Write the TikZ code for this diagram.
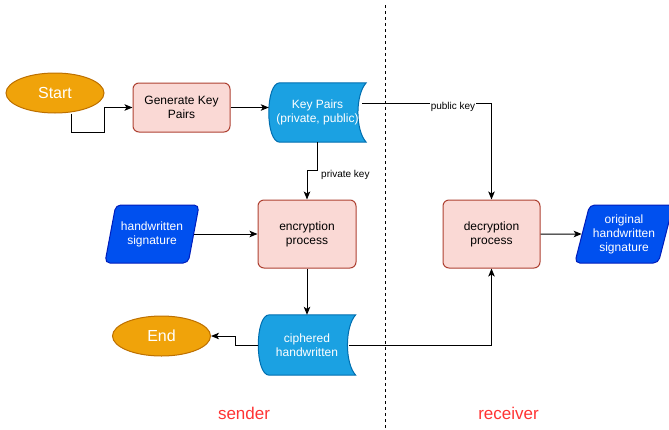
\documentclass[tikz,border=0pt]{standalone}
\usepackage{fontspec}
\setmainfont{Liberation Sans}
\usetikzlibrary{arrows.meta}
\usetikzlibrary{shapes.geometric, backgrounds, calc}
\definecolor{termfill}{HTML}{F0A30A}
\definecolor{termline}{HTML}{BD7000}
\definecolor{procfill}{HTML}{FAD9D5}
\definecolor{procline}{HTML}{AE4132}
\definecolor{storefill}{HTML}{1BA1E2}
\definecolor{storeline}{HTML}{006EAF}
\definecolor{iofill}{HTML}{0050EF}
\definecolor{ioline}{HTML}{001DBC}
\definecolor{sidered}{HTML}{FF3333}

% data storage outline round a plain node
\newcommand{\storeshape}[1]{%
  \draw[storeline, fill=storefill, line width=1pt]
    ($(#1.north west)+(11,0)$) -- (#1.north east)
    .. controls ($(#1.north east)+(-11,12)$) and ($(#1.south east)+(-11,-12)$) .. (#1.south east)
    -- ($(#1.south west)+(11,0)$)
    .. controls ($(#1.south west)+(-3.7,0)$) and ($(#1.north west)+(-3.7,0)$) .. cycle;
}

\begin{document}
\begin{tikzpicture}[x=1pt, y=-1pt,
    terminal/.style={ellipse, draw=termline, fill=termfill, line width=1pt, text=white,
        minimum width=98, minimum height=40, inner sep=0pt, font=\fontsize{16}{19}\selectfont},
    procbox/.style={rectangle, rounded corners=6pt, draw=procline, fill=procfill, line width=1pt,
        align=center, font=\fontsize{12}{14}\selectfont},
    datastore/.style={rectangle, minimum width=97, minimum height=59, text=white,
        align=center, font=\fontsize{12}{14}\selectfont},
    iobox/.style={trapezium, trapezium left angle=72, trapezium right angle=108, trapezium stretches=true,
        rounded corners=5pt, draw=ioline, fill=iofill, line width=1pt, text=white,
        minimum width=95, minimum height=58, align=center, font=\fontsize{12}{14}\selectfont},
    conn/.style={-{Stealth[length=8pt, width=6.5pt, inset=2pt]}, line width=1pt},
    edgelabel/.style={font=\fontsize{10}{12}\selectfont, inner sep=1pt},
    sidelabel/.style={text=sidered, font=\fontsize{17}{20}\selectfont}
]
    \useasboundingbox (0,0) rectangle (669,429);

    % sender side
    \node[terminal] (start) at (55,93) {Start};
    \node[procbox, minimum width=97, minimum height=49] (gen) at (181.5,107.5) {Generate Key\\Pairs};
    \node[datastore] (keys) at (317.5,112.5) {Key Pairs\\(private, public)};
    \node[iobox] (sig) at (152,234) {handwritten\\signature};
    \node[procbox, minimum width=98, minimum height=68] (enc) at (307,234) {encryption\\process};
    \node[datastore, minimum height=60] (ciph) at (307,345) {ciphered\\handwritten};
    \node[terminal] (end) at (161.5,336) {End};

    % receiver side
    \node[procbox, minimum width=97, minimum height=68] (dec) at (491.5,234) {decryption\\process};
    \node[iobox, minimum width=90] (orig) at (624,234) {original\\handwritten\\signature};

    \begin{scope}[on background layer]
        \storeshape{keys}
        \storeshape{ciph}
    \end{scope}

    \draw[dashed, dash pattern=on 3pt off 3pt, line width=0.8pt] (385,5) -- (385,429);

    \draw[conn] ([xshift=16pt]start.south) -- ++(0,19) -- ++(33,0) |- (gen.west);
    \draw[conn] (gen.east) -- (gen.east -| keys.west);
    \draw[conn] ([yshift=9pt, xshift=-4pt]keys.east) -| (dec.north);
    \node[edgelabel, fill=white] (pubkey) at (453,107) {public key};
    \draw[conn] (keys.south) -- ++(0,28) -| (enc.north);
    \node[edgelabel, anchor=west] (privkey) at (320,175) {private key};
    \draw[conn] (sig.east) -- (enc.west);
    \draw[conn] (enc.south) -- (ciph.north);
    \draw[conn] (ciph.west) -- ++(-23,0) |- (end.east);
    \draw[conn] ([xshift=-7pt]ciph.east) -| (dec.south);
    \draw[conn] (dec.east) -- (orig.west);

    \node[sidelabel] (sender) at (244,413) {sender};
    \node[sidelabel] (receiver) at (508.5,413) {receiver};
\end{tikzpicture}
\end{document}
